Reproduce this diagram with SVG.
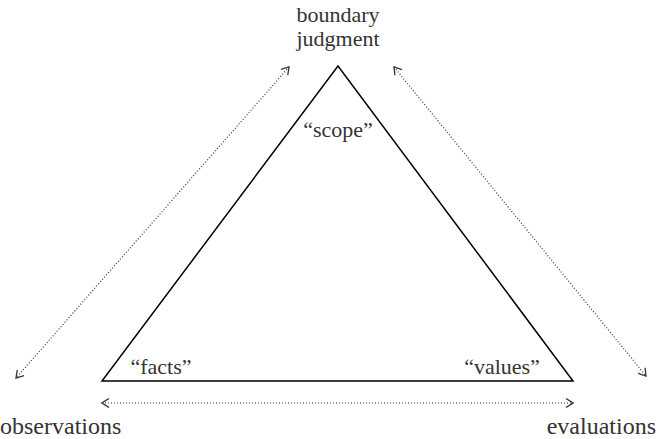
<svg xmlns="http://www.w3.org/2000/svg" width="658" height="439" viewBox="0 0 658 439">
<defs>
<style>
text{font-family:"Liberation Serif","Times New Roman",serif;font-size:22px;fill:#333}
.big{font-size:24px}
.tri{fill:none;stroke:#000;stroke-width:1.5;stroke-linejoin:miter}
.con{fill:none;stroke:#333;stroke-width:1.2;stroke-dasharray:1 2}
</style>
<marker id="ah" viewBox="0 0 10 10" refX="9" refY="5" markerWidth="10" markerHeight="10" markerUnits="userSpaceOnUse" orient="auto-start-reverse">
<path d="M2,0.5 L9,5 L2,9.5" fill="none" stroke="#333" stroke-width="1.3"/>
</marker>
</defs>
<g id="triangle">
<polygon class="tri" points="338,66 102,381 573,381"/>
</g>
<g id="boundary">
<text x="338" y="22" text-anchor="middle">boundary</text>
<text x="338" y="46" text-anchor="middle">judgment</text>
</g>
<g id="scope"><text x="338" y="137" text-anchor="middle">“scope”</text></g>
<g id="facts"><text x="161" y="374" text-anchor="middle">“facts”</text></g>
<g id="values"><text x="502" y="374" text-anchor="middle">“values”</text></g>
<g id="observations"><text class="big" x="0" y="434">observations</text></g>
<g id="evaluations"><text class="big" x="656" y="434" text-anchor="end">evaluations</text></g>
<g id="connectors">
<line class="con" x1="289" y1="67" x2="16" y2="378" marker-start="url(#ah)" marker-end="url(#ah)"/>
<line class="con" x1="394" y1="67" x2="646" y2="376" marker-start="url(#ah)" marker-end="url(#ah)"/>
<line class="con" x1="102" y1="403" x2="573" y2="403" marker-start="url(#ah)" marker-end="url(#ah)"/>
</g>
</svg>
